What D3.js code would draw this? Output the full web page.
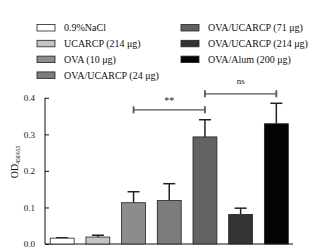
<!DOCTYPE html>
<html>
<head>
<meta charset="utf-8">
<script src="https://cdn.jsdelivr.net/npm/d3@7"></script>
<style>
  body { margin: 0; background: #fff; }
  svg { display: block; font-family: "Liberation Serif", "DejaVu Serif", serif; }
</style>
</head>
<body>
<div id="chart"></div>
<script>
// groups, in bar order
const groups = ["0.9%NaCl", "UCARCP (214 μg)", "OVA (10 μg)", "OVA/UCARCP (24 μg)",
                "OVA/UCARCP (71 μg)", "OVA/UCARCP (214 μg)", "OVA/Alum (200 μg)"];
const means = [0.016, 0.019, 0.113, 0.119, 0.293, 0.081, 0.329];
const errors = [0.001, 0.005, 0.030, 0.046, 0.047, 0.017, 0.056];
const fills = ["#ffffff", "#c4c4c4", "#8c8c8e", "#7c7c7c", "#626262", "#333333", "#040404"];
const yTicks = [0.0, 0.1, 0.2, 0.3, 0.4];
// significance brackets: [from group, to group, label, level]
const brackets = [
    [2, 4, "**", 0.367],
    [4, 6, "ns", 0.411]
];

const width = 321, height = 252;
const svg = d3.select("#chart").append("svg")
    .attr("width", width).attr("height", height);

const x = d3.scaleBand().domain(d3.range(groups.length))
    .range([44.5, 294]).paddingInner(0.33).paddingOuter(0.16);
const y = d3.scaleLinear().domain([0, 0.4]).range([244, 97.8]);

// legend
const legend = svg.append("g");
groups.forEach((g, i) => {
    const col = i < 4 ? 0 : 1;
    const row = i < 4 ? i : i - 4;
    const lx = col === 0 ? 37 : 181;
    const ly = 24.5 + row * 15.8;
    legend.append("rect").attr("x", lx).attr("y", ly).attr("width", 18).attr("height", 6.5)
        .attr("fill", fills[i]).attr("stroke", "#222").attr("stroke-width", 0.8);
    legend.append("text").attr("x", lx + 27).attr("y", ly + 6.8)
        .attr("font-size", 10).attr("fill", "#111").text(g);
});

// y axis
const yAxis = svg.append("g").attr("transform", `translate(${45},0)`)
    .call(d3.axisRight(y).tickValues(yTicks).tickSize(4).tickFormat(d3.format(".1f")));
yAxis.select(".domain").attr("stroke", "#111").attr("d", `M0,${y(0)}V${y(0.4)}`);
yAxis.selectAll("line").attr("stroke", "#111");
yAxis.selectAll("text").attr("x", -10).attr("text-anchor", "end")
    .attr("font-family", "Liberation Serif").attr("font-size", 9).attr("fill", "#111");

// y label
const yl = svg.append("text").attr("transform", "translate(18,162) rotate(-90)")
    .attr("text-anchor", "middle").attr("font-size", 10).attr("fill", "#111");
yl.append("tspan").text("OD");
yl.append("tspan").attr("font-size", 5.5).attr("dy", 2).text("450/655");

// x axis line
svg.append("line").attr("x1", 45).attr("x2", 293).attr("y1", y(0)).attr("y2", y(0))
    .attr("stroke", "#111").attr("stroke-width", 1);

// error bars
const eb = svg.append("g").selectAll("g").data(groups).join("g");
eb.append("line")
    .attr("x1", (d, i) => x(i) + x.bandwidth() / 2).attr("x2", (d, i) => x(i) + x.bandwidth() / 2)
    .attr("y1", (d, i) => y(means[i])).attr("y2", (d, i) => y(means[i] + errors[i]))
    .attr("stroke", "#222").attr("stroke-width", 1.5);
eb.append("line")
    .attr("x1", (d, i) => x(i) + x.bandwidth() / 2 - 6).attr("x2", (d, i) => x(i) + x.bandwidth() / 2 + 6)
    .attr("y1", (d, i) => y(means[i] + errors[i])).attr("y2", (d, i) => y(means[i] + errors[i]))
    .attr("stroke", "#222").attr("stroke-width", 1.5);

// bars
svg.append("g").selectAll("rect").data(groups).join("rect")
    .attr("x", (d, i) => x(i)).attr("width", x.bandwidth())
    .attr("y", (d, i) => y(means[i])).attr("height", (d, i) => y(0) - y(means[i]))
    .attr("fill", (d, i) => fills[i]).attr("stroke", "#222").attr("stroke-width", 0.8);

// significance brackets
brackets.forEach(([a, b, label, lvl]) => {
    const x1 = x(a) + x.bandwidth() / 2, x2 = x(b) + x.bandwidth() / 2, yy = y(lvl);
    const g = svg.append("g").attr("stroke", "#555").attr("stroke-width", 1.3);
    g.append("line").attr("x1", x1).attr("x2", x2).attr("y1", yy).attr("y2", yy);
    g.append("line").attr("x1", x1).attr("x2", x1).attr("y1", yy - 3.5).attr("y2", yy + 3.5).attr("stroke-width", 1.8);
    g.append("line").attr("x1", x2).attr("x2", x2).attr("y1", yy - 3.5).attr("y2", yy + 3.5).attr("stroke-width", 1.8);
    svg.append("text").attr("x", (x1 + x2) / 2).attr("y", yy - (label === "ns" ? 10 : 6))
        .attr("text-anchor", "middle").attr("font-size", label === "**" ? 10 : 9)
        .attr("fill", "#222").text(label);
});
</script>
</body>
</html>
